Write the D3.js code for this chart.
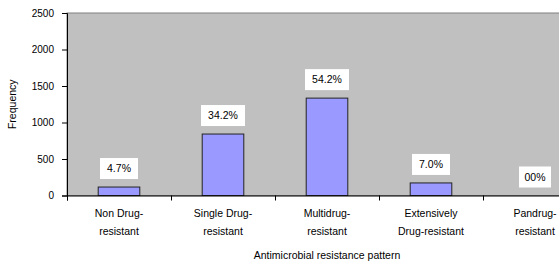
<!DOCTYPE html>
<html>
<head>
<meta charset="utf-8">
<script src="https://cdn.jsdelivr.net/npm/d3@7"></script>
<style>
  body { margin: 0; background: #fff; }
  svg { display: block; font-family: "Liberation Sans", Arial, sans-serif; }
</style>
</head>
<body>
<div id="chart"></div>
<script>
// antimicrobial resistance pattern chart

var categories = [
  ["Non Drug-", "resistant"],
  ["Single Drug-", "resistant"],
  ["Multidrug-", "resistant"],
  ["Extensively", "Drug-resistant"],
  ["Pandrug-", "resistant"]
];
var frequency = [116, 842, 1334, 172, 0];
var percentLabels = ["4.7%", "34.2%", "54.2%", "7.0%", "00%"];
var yTicks = [0, 500, 1000, 1500, 2000, 2500];

var width = 559,
    height = 264,
    plotLeft = 67,
    plotTop = 13,
    plotBottom = 195.5,
    plotWidth = 520;

var svg = d3.select("#chart").append("svg")
  .attr("width", width)
  .attr("height", height);

var x = d3.scaleBand()
  .domain(d3.range(categories.length))
  .range([plotLeft, plotLeft + plotWidth])
  .paddingInner(0.6)
  .paddingOuter(0.3);

var y = d3.scaleLinear()
  .domain([0, 2500])
  .range([plotBottom, plotTop]);

// plot background
svg.append("rect")
  .attr("x", plotLeft)
  .attr("y", plotTop)
  .attr("width", plotWidth)
  .attr("height", plotBottom - plotTop)
  .attr("fill", "#c0c0c0")
  .attr("stroke", "#808080")
  .attr("stroke-width", 1);

// bars
svg.selectAll("rect.bar")
  .data(frequency)
  .enter().append("rect")
  .attr("class", "bar")
  .attr("x", function(d, i) { return x(i); })
  .attr("y", function(d) { return y(d); })
  .attr("width", x.bandwidth())
  .attr("height", function(d) { return plotBottom - y(d); })
  .attr("fill", "#9999ff")
  .attr("stroke", "#222")
  .attr("stroke-width", 1)
  .style("display", function(d) { return d > 0 ? null : "none"; });

// percentage labels
var lab = svg.selectAll("g.lab")
  .data(percentLabels)
  .enter().append("g")
  .attr("class", "lab")
  .attr("transform", function(d, i) {
    return "translate(" + (x(i) + x.bandwidth() / 2) + "," + (y(frequency[i]) - 8) + ")";
  });

lab.append("rect")
  .attr("x", function(d) { return -(d.length * 6 + 14) / 2; })
  .attr("y", -21)
  .attr("width", function(d) { return d.length * 6 + 14; })
  .attr("height", 21)
  .attr("fill", "#fff");

lab.append("text")
  .attr("y", -7)
  .attr("text-anchor", "middle")
  .attr("font-size", 10.5)
  .attr("fill", "#000")
  .text(function(d) { return d; });

// y axis
var yAxis = svg.append("g")
  .attr("transform", "translate(" + plotLeft + ",0)")
  .call(d3.axisLeft(y).tickValues(yTicks).tickSize(5).tickPadding(8).tickFormat(d3.format("d")));
yAxis.select(".domain").attr("stroke", "#000");
yAxis.selectAll("text").attr("font-size", 10).attr("font-family", "Liberation Sans, Arial, sans-serif");

// x axis
var xTickScale = d3.scaleLinear()
  .domain([0, categories.length])
  .range([plotLeft, plotLeft + plotWidth]);
var xAxis = svg.append("g")
  .attr("transform", "translate(0," + plotBottom + ")")
  .call(d3.axisBottom(xTickScale).tickValues(d3.range(categories.length + 1)).tickSize(5).tickFormat(""));
xAxis.select(".domain").attr("stroke", "#000");

var catLabels = svg.selectAll("text.cat")
  .data(categories)
  .enter().append("text")
  .attr("class", "cat")
  .attr("text-anchor", "middle")
  .attr("font-size", 10.5)
  .attr("fill", "#000");
catLabels.selectAll("tspan")
  .data(function(d, i) { return d.map(function(t) { return { t: t, i: i }; }); })
  .enter().append("tspan")
  .attr("x", function(d) { return x(d.i) + x.bandwidth() / 2; })
  .attr("y", function(d, j) { return 217 + j * 17.5; })
  .text(function(d) { return d.t; });

// axis titles
svg.append("text")
  .attr("x", plotLeft + plotWidth / 2)
  .attr("y", 259)
  .attr("text-anchor", "middle")
  .attr("font-size", 10.5)
  .text("Antimicrobial resistance pattern");

svg.append("text")
  .attr("transform", "translate(16," + ((plotTop + plotBottom) / 2) + ") rotate(-90)")
  .attr("text-anchor", "middle")
  .attr("font-size", 10.5)
  .text("Frequency");
</script>
</body>
</html>
